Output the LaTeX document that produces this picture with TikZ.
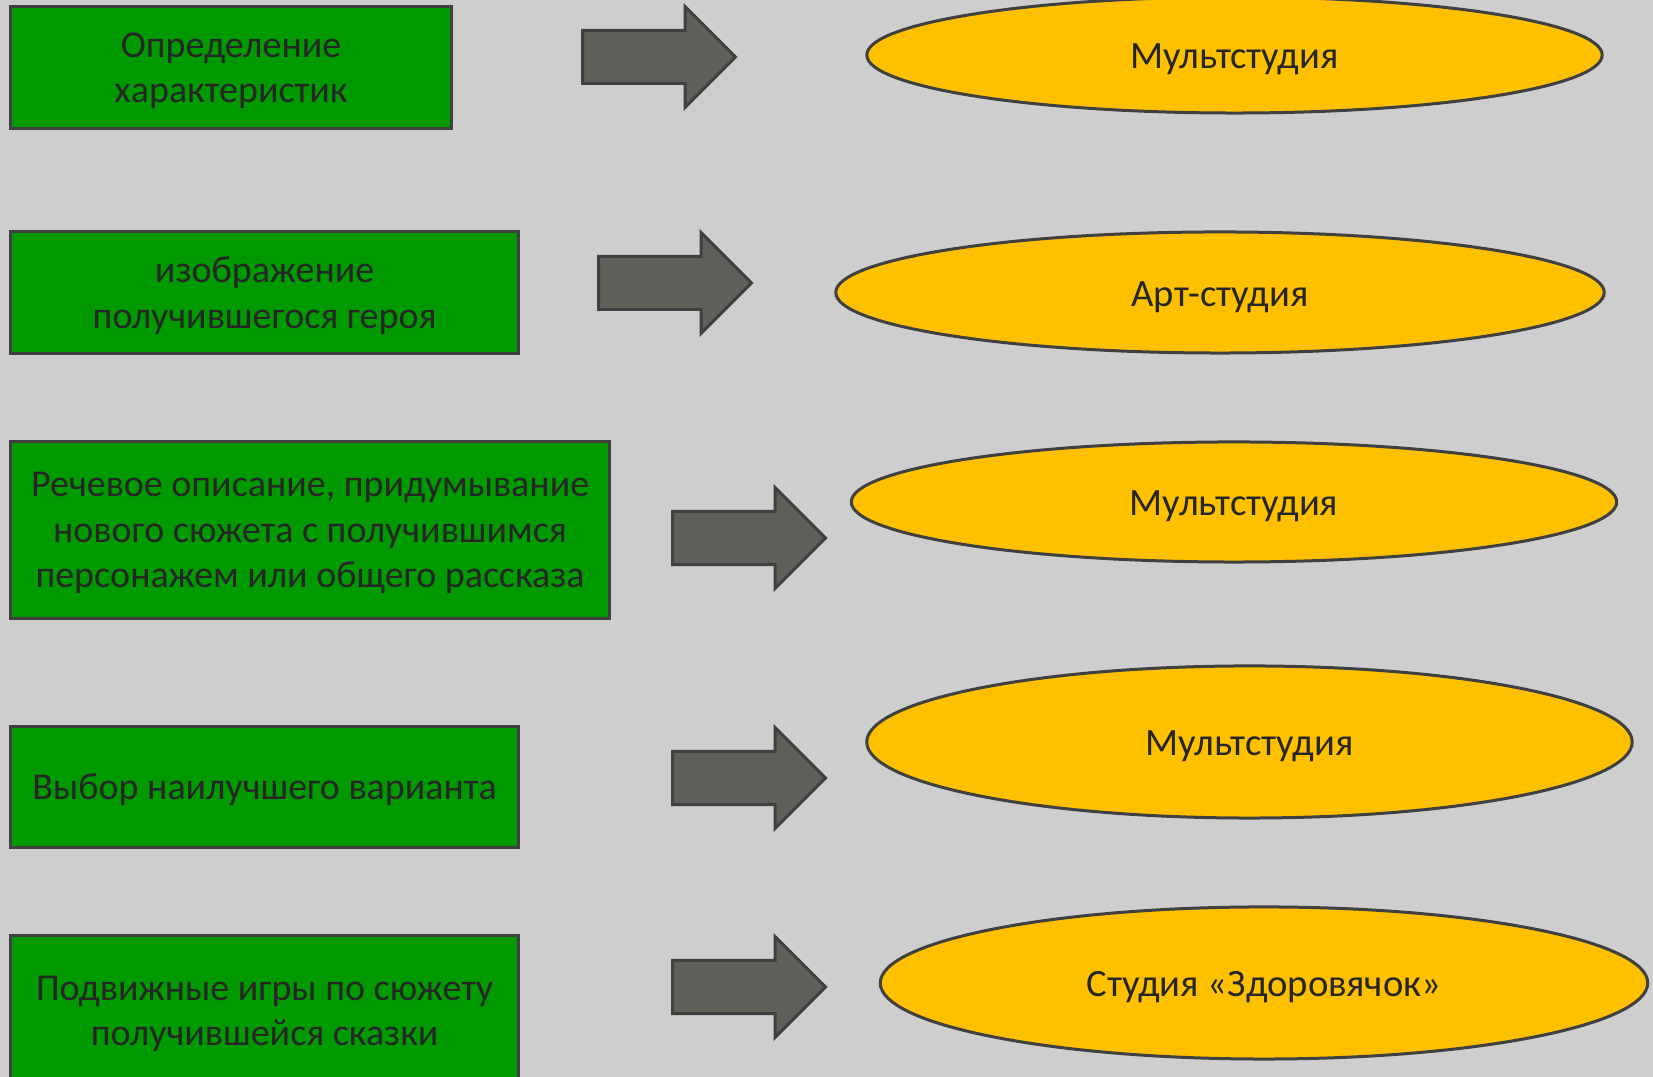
\documentclass[tikz,border=0pt]{standalone}
\usepackage{fontspec}
\setmainfont{Carlito}
\usepackage{tikz}
\usetikzlibrary{positioning}
\usetikzlibrary{shapes.geometric}
\usetikzlibrary{shapes.arrows}

\definecolor{cloth}{RGB}{206,206,206}
\definecolor{stagegreen}{RGB}{0,153,0}
\definecolor{studioyellow}{RGB}{255,192,0}
\definecolor{pointergray}{RGB}{95,96,90}
\definecolor{edgegray}{RGB}{64,64,64}
\definecolor{ink}{RGB}{38,38,38}

\tikzset{
    stage/.style={rectangle, draw=edgegray, line width=0.03cm, fill=stagegreen, text=ink, align=center, inner sep=0pt, text depth=-0.03cm, font=\fontsize{10.8}{12.9}\selectfont},
    studio/.style={ellipse, draw=edgegray, line width=0.03cm, fill=studioyellow, text=ink, inner sep=0pt, text height=0.34cm, font=\fontsize{11}{13}\selectfont},
    pointer/.style={single arrow, draw=edgegray, line width=0.03cm, fill=pointergray, inner xsep=0pt, inner ysep=0.25cm, single arrow head extend=0.24cm, minimum height=1.53cm, anchor=tail}
}

\begin{document}
\begin{tikzpicture}[x=0.01cm, y=-0.01cm]
    \useasboundingbox (0,0) rectangle (1653,1077);
    \clip (0,0) rectangle (1653,1077);
    \fill[cloth] (0,0) rectangle (1653,1077);

    \coordinate (tail1) at (581, 57);
    \coordinate (tail2) at (597, 283);
    \coordinate (tail3) at (671, 538);
    \coordinate (tail4) at (671, 778);
    \coordinate (tail5) at (671, 987);

    % steps
    \node[stage, minimum width=4.41cm, minimum height=1.22cm] (step1) at (231, 67.5) {Определение\\характеристик};
    \node[stage, minimum width=5.08cm, minimum height=1.21cm] (step2) at (264.6, 292.5) {изображение\\получившегося героя};
    \node[stage, minimum width=5.99cm, minimum height=1.76cm] (step3) at (310, 530) {Речевое описание, придумывание\\нового сюжета с получившимся\\персонажем или общего рассказа};
    \node[stage, minimum width=5.08cm, minimum height=1.21cm] (step4) at (264.6, 787) {Выбор наилучшего варианта};
    \node[stage, minimum width=5.08cm, minimum height=1.50cm] (step5) at (264.6, 1011) {Подвижные игры по сюжету\\получившейся сказки};

    % arrows
    \node[pointer] (go1) at (tail1) {};
    \node[pointer] (go2) at (tail2) {};
    \node[pointer] (go3) at (tail3) {};
    \node[pointer] (go4) at (tail4) {};
    \node[pointer] (go5) at (tail5) {};

    % studios
    \node[studio, minimum width=7.35cm, minimum height=1.16cm] (place1) at (1234.5, 55) {Мультстудия};
    \node[studio, minimum width=7.68cm, minimum height=1.21cm] (place2) at (1220, 292.5) {Арт-студия};
    \node[studio, minimum width=7.65cm, minimum height=1.20cm] (place3) at (1234, 502) {Мультстудия};
    \node[studio, minimum width=7.65cm, minimum height=1.52cm] (place4) at (1249.5, 742) {Мультстудия};
    \node[studio, minimum width=7.67cm, minimum height=1.52cm] (place5) at (1264, 983) {Студия «Здоровячок»};
\end{tikzpicture}
\end{document}
